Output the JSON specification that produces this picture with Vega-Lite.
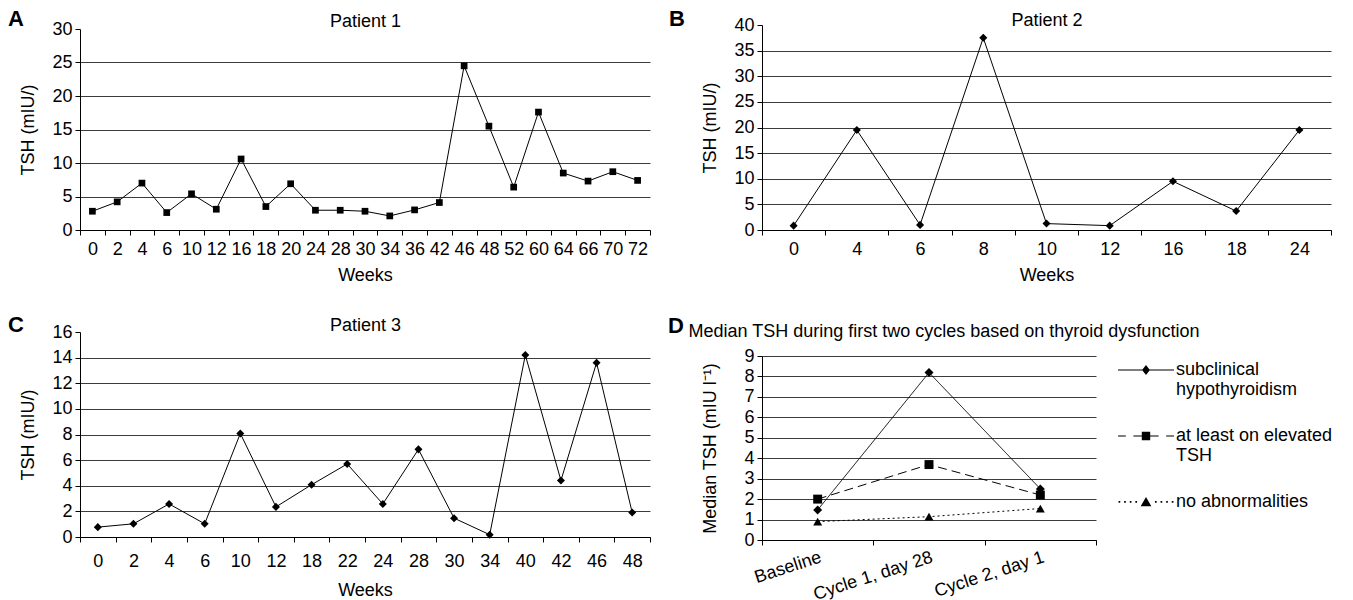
{
  "$schema": "https://vega.github.io/schema/vega-lite/v6.json",
  "background": "white",
  "padding": {"left": 8, "top": 8, "right": 5, "bottom": 2},
  "config": {
    "font": "Liberation Sans",
    "view": {"stroke": null},
    "axis": {
      "labelFont": "Liberation Sans", "titleFont": "Liberation Sans",
      "labelFontSize": 18, "titleFontSize": 18, "titleFontWeight": "normal",
      "labelColor": "black", "titleColor": "black",
      "domainColor": "black", "tickColor": "black",
      "gridColor": "#3c3c3c", "gridOpacity": 1,
      "tickSize": 5
    },
    "axisX": {"grid": false, "labelAngle": 0, "tickBand": "extent", "labelFlush": false, "labelOverlap": false, "labelPadding": 5, "titlePadding": 8},
    "axisY": {"grid": true, "labelPadding": 3, "titlePadding": 14},
    "title": {"fontSize": 22, "fontWeight": "bold", "color": "black", "font": "Liberation Sans", "anchor": "start", "frame": "group", "baseline": "alphabetic"}
  },
  "spacing": 17,
  "resolve": {"scale": {"shape": "independent", "strokeDash": "independent"}, "legend": {"shape": "independent", "strokeDash": "independent"}},
  "hconcat": [
    {
      "spacing": 30,
      "vconcat": [
        {
          "width": 570, "height": 205,
          "title": {"text": "A", "dx": -72, "offset": -19},
          "data": {"values": [
            {"week": "0", "tsh": 2.8}, {"week": "2", "tsh": 4.2}, {"week": "4", "tsh": 7.0}, {"week": "6", "tsh": 2.6},
            {"week": "10", "tsh": 5.4}, {"week": "12", "tsh": 3.1}, {"week": "16", "tsh": 10.6}, {"week": "18", "tsh": 3.5},
            {"week": "20", "tsh": 6.9}, {"week": "24", "tsh": 2.95}, {"week": "28", "tsh": 2.95}, {"week": "30", "tsh": 2.8},
            {"week": "34", "tsh": 2.1}, {"week": "36", "tsh": 3.0}, {"week": "42", "tsh": 4.1}, {"week": "46", "tsh": 24.5},
            {"week": "48", "tsh": 15.5}, {"week": "52", "tsh": 6.4}, {"week": "60", "tsh": 17.6}, {"week": "64", "tsh": 8.5},
            {"week": "66", "tsh": 7.3}, {"week": "70", "tsh": 8.7}, {"week": "72", "tsh": 7.4}
          ]},
          "encoding": {
            "y": {"field": "tsh", "type": "quantitative", "scale": {"domain": [0, 30], "nice": false, "range": [205, 4]},
                  "axis": {"values": [0, 5, 10, 15, 20, 25, 30], "title": "TSH (mIU/)",
                           "gridOpacity": {"condition": {"test": "datum.value >= 30", "value": 0}, "value": 1}}}
          },
          "layer": [
            {"mark": {"type": "line", "color": "black", "strokeWidth": 1},
             "encoding": {"x": {"field": "week", "type": "ordinal", "sort": null, "bandPosition": 0.5,
                      "scale": {"type": "band", "paddingInner": 0, "paddingOuter": 0},
                      "axis": {"title": "Weeks"}}}},
            {"mark": {"type": "point", "shape": "square", "filled": true, "color": "black", "size": 45, "opacity": 1},
             "encoding": {"x": {"field": "week", "type": "ordinal", "sort": null, "bandPosition": 0.5,
                      "axis": {"orient": "top", "title": "Patient 1", "labels": false, "ticks": false, "domain": false, "grid": false,
                               "titlePadding": -1, "titleBaseline": "alphabetic"}}}}
          ],
          "resolve": {"axis": {"x": "independent"}}
        },
        {
          "width": 570, "height": 205,
          "title": {"text": "C", "dx": -72, "offset": -21},
          "data": {"values": [
            {"week": "0", "tsh": 0.77}, {"week": "2", "tsh": 1.03}, {"week": "4", "tsh": 2.58}, {"week": "6", "tsh": 1.03},
            {"week": "10", "tsh": 8.08}, {"week": "12", "tsh": 2.35}, {"week": "18", "tsh": 4.08}, {"week": "22", "tsh": 5.7},
            {"week": "24", "tsh": 2.58}, {"week": "28", "tsh": 6.84}, {"week": "30", "tsh": 1.47}, {"week": "34", "tsh": 0.18},
            {"week": "40", "tsh": 14.2}, {"week": "42", "tsh": 4.41}, {"week": "46", "tsh": 13.6}, {"week": "48", "tsh": 1.91}
          ]},
          "encoding": {
            "y": {"field": "tsh", "type": "quantitative", "scale": {"domain": [0, 16], "nice": false},
                  "axis": {"values": [0, 2, 4, 6, 8, 10, 12, 14, 16], "title": "TSH (mIU/)",
                           "gridOpacity": {"condition": {"test": "datum.value >= 16", "value": 0}, "value": 1}}}
          },
          "layer": [
            {"mark": {"type": "line", "color": "black", "strokeWidth": 1},
             "encoding": {"x": {"field": "week", "type": "ordinal", "sort": null, "bandPosition": 0.5,
                      "scale": {"type": "band", "paddingInner": 0, "paddingOuter": 0},
                      "axis": {"title": "Weeks", "labelPadding": 10, "titlePadding": 11}}}},
            {"mark": {"type": "point", "shape": "diamond", "filled": true, "color": "black", "size": 65, "opacity": 1},
             "encoding": {"x": {"field": "week", "type": "ordinal", "sort": null, "bandPosition": 0.5,
                      "axis": {"orient": "top", "title": "Patient 3", "labels": false, "ticks": false, "domain": false, "grid": false,
                               "titlePadding": 2, "titleBaseline": "alphabetic"}}}}
          ],
          "resolve": {"axis": {"x": "independent"}}
        }
      ]
    },
    {
      "spacing": 31,
      "resolve": {"scale": {"shape": "independent", "strokeDash": "independent"}, "legend": {"shape": "independent", "strokeDash": "independent"}},
      "vconcat": [
        {
          "width": 569, "height": 205,
          "title": {"text": "B", "dx": -93, "offset": -20},
          "data": {"values": [
            {"week": "0", "tsh": 0.85}, {"week": "4", "tsh": 19.5}, {"week": "6", "tsh": 1.0}, {"week": "8", "tsh": 37.5},
            {"week": "10", "tsh": 1.25}, {"week": "12", "tsh": 0.85}, {"week": "16", "tsh": 9.5}, {"week": "18", "tsh": 3.7},
            {"week": "24", "tsh": 19.5}
          ]},
          "encoding": {
            "y": {"field": "tsh", "type": "quantitative", "scale": {"domain": [0, 40], "nice": false},
                  "axis": {"values": [0, 5, 10, 15, 20, 25, 30, 35, 40], "title": "TSH (mIU/)",
                           "gridOpacity": {"condition": {"test": "datum.value >= 40", "value": 0}, "value": 1}}}
          },
          "layer": [
            {"mark": {"type": "line", "color": "black", "strokeWidth": 1},
             "encoding": {"x": {"field": "week", "type": "ordinal", "sort": null, "bandPosition": 0.5,
                      "scale": {"type": "band", "paddingInner": 0, "paddingOuter": 0},
                      "axis": {"title": "Weeks"}}}},
            {"mark": {"type": "point", "shape": "diamond", "filled": true, "color": "black", "size": 65, "opacity": 1},
             "encoding": {"x": {"field": "week", "type": "ordinal", "sort": null, "bandPosition": 0.5,
                      "axis": {"orient": "top", "title": "Patient 2", "labels": false, "ticks": false, "domain": false, "grid": false,
                               "titlePadding": 0, "titleBaseline": "alphabetic"}}}}
          ],
          "resolve": {"axis": {"x": "independent"}}
        },
        {
          "width": 334, "height": 184,
          "title": {"text": "D", "dx": -94, "offset": -16},
          "data": {"values": [
            {"time": "Baseline", "series": "subclinical hypothyroidism", "tsh": 1.47},
            {"time": "Cycle 1, day 28", "series": "subclinical hypothyroidism", "tsh": 8.19},
            {"time": "Cycle 2, day 1", "series": "subclinical hypothyroidism", "tsh": 2.5},
            {"time": "Baseline", "series": "at least on elevated TSH", "tsh": 2.0},
            {"time": "Cycle 1, day 28", "series": "at least on elevated TSH", "tsh": 3.69},
            {"time": "Cycle 2, day 1", "series": "at least on elevated TSH", "tsh": 2.2},
            {"time": "Baseline", "series": "no abnormalities", "tsh": 0.9},
            {"time": "Cycle 1, day 28", "series": "no abnormalities", "tsh": 1.14},
            {"time": "Cycle 2, day 1", "series": "no abnormalities", "tsh": 1.54}
          ]},
          "encoding": {
            "y": {"field": "tsh", "type": "quantitative", "scale": {"domain": [0, 9], "nice": false},
                  "axis": {"values": [0, 1, 2, 3, 4, 5, 6, 7, 8, 9], "title": "Median TSH (mIU l⁻¹)", "titlePadding": 24}}
          },
          "layer": [
            {"mark": {"type": "line", "color": "black", "strokeWidth": 1},
             "encoding": {
               "x": {"field": "time", "type": "nominal", "sort": null, "bandPosition": 0.5,
                     "scale": {"type": "band", "paddingInner": 0, "paddingOuter": 0},
                     "axis": {"title": null, "labelAngle": -18, "labelAlign": "right", "labelBaseline": "top", "labelPadding": 3}},
               "strokeDash": {"field": "series", "type": "nominal",
                 "scale": {"domain": ["no abnormalities", "at least on elevated TSH", "subclinical hypothyroidism"], "range": [[2, 3], [9, 5], [1, 0]]},
                 "legend": null}}},
            {"mark": {"type": "point", "filled": true, "color": "black", "size": 80, "opacity": 1},
             "encoding": {
               "x": {"field": "time", "type": "nominal", "sort": null, "bandPosition": 0.5,
                     "axis": {"orient": "top", "title": "Median TSH during first two cycles based on thyroid dysfunction",
                              "labels": false, "ticks": false, "domain": false, "grid": false,
                              "titlePadding": 20, "titleBaseline": "alphabetic", "titleAnchor": "start", "titleAlign": "left", "titleX": -74}},
               "shape": {"field": "series", "type": "nominal",
                 "scale": {"domain": ["subclinical hypothyroidism", "at least on elevated TSH", "no abnormalities"], "range": ["diamond", "square", "triangle-up"]},
                 "legend": null}}},
            {"mark": {"type": "point", "filled": true, "color": "black", "opacity": 0},
             "encoding": {
               "x": {"field": "time", "type": "nominal", "sort": null, "bandPosition": 0.5, "axis": null},
               "shape": {"field": "series", "type": "nominal",
                 "scale": {"domain": ["subclinical hypothyroidism", "at least on elevated TSH", "no abnormalities"],
                           "range": [
                             "M-1,0.3H1V0.34H-1Z M0,0.14L0.14,0.32L0,0.5L-0.14,0.32Z",
                             "M-1,0.3H-0.72V0.34H-1Z M-0.45,0.3H0.45V0.34H-0.45Z M0.72,0.3H1V0.34H0.72Z M-0.15,0.17H0.15V0.47H-0.15Z",
                             "M-0.98,0.29H-0.92V0.35H-0.98Z M-0.78,0.29H-0.72V0.35H-0.78Z M-0.58,0.29H-0.52V0.35H-0.58Z M-0.38,0.29H-0.32V0.35H-0.38Z M0.32,0.29H0.38V0.35H0.32Z M0.52,0.29H0.58V0.35H0.52Z M0.72,0.29H0.78V0.35H0.72Z M0.92,0.29H0.98V0.35H0.92Z M0,0.14L0.19,0.47H-0.19Z"
                           ]},
                 "legend": {
                   "title": null, "orient": "right", "offset": 45, "padding": -23, "symbolSize": 3136, "labelOffset": 2,
                   "labelFontSize": 18, "labelColor": "black", "labelFont": "Liberation Sans", "labelLimit": 400, "rowPadding": 0,
                   "labelBaseline": "top", "symbolStrokeWidth": 0, "symbolOpacity": 1, "symbolFillColor": "black",
                   "labelExpr": "datum.label == 'subclinical hypothyroidism' ? ['subclinical', 'hypothyroidism'] : datum.label == 'at least on elevated TSH' ? ['at least on elevated', 'TSH'] : datum.label"
                 }}}}
          ],
          "resolve": {"axis": {"x": "independent"}, "scale": {"shape": "independent"}}
        }
      ]
    }
  ]
}
